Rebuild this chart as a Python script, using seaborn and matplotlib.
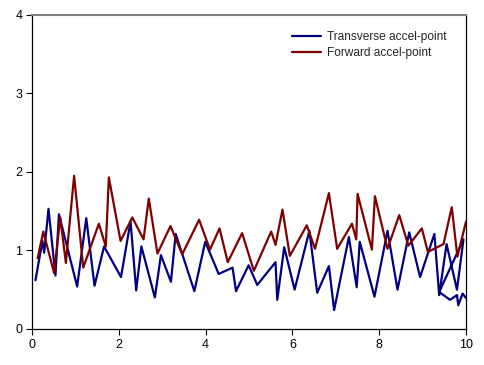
import pandas as pd
import numpy as np
import matplotlib
matplotlib.use('Agg')
import matplotlib.pyplot as plt
import seaborn as sns

# valori
trans_x = [0.08, 0.24, 0.28, 0.38, 0.54, 0.62, 1.04, 1.25, 1.44, 1.66, 2.05, 2.27, 2.40,
           2.52, 2.83, 2.97, 3.20, 3.31, 3.74, 3.99, 4.30, 4.62, 4.70, 4.99, 5.19, 5.61,
           5.65, 5.81, 6.05, 6.39, 6.57, 6.84, 6.96, 7.30, 7.48, 7.55, 7.89, 8.19, 8.42,
           8.69, 8.94, 9.27, 9.38, 9.55, 9.79, 9.94, 9.38, 9.63, 9.79, 9.82, 9.92, 10.0]
trans_y = [0.62, 1.12, 0.97, 1.53, 0.68, 1.46, 0.54, 1.41, 0.55, 1.05, 0.66, 1.37, 0.49,
           1.05, 0.40, 0.94, 0.60, 1.21, 0.48, 1.11, 0.70, 0.78, 0.48, 0.81, 0.56, 0.85,
           0.37, 1.04, 0.50, 1.25, 0.46, 0.80, 0.24, 1.17, 0.53, 1.11, 0.41, 1.25, 0.50,
           1.23, 0.66, 1.21, 0.43, 1.08, 0.50, 1.14, 0.47, 0.37, 0.43, 0.30, 0.45, 0.39]

fwd_x = [0.13, 0.26, 0.51, 0.65, 0.78, 0.97, 1.18, 1.54, 1.70, 1.77, 2.04, 2.31, 2.57,
         2.69, 2.89, 3.19, 3.46, 3.85, 4.10, 4.32, 4.51, 4.84, 5.11, 5.51, 5.61, 5.77,
         5.94, 6.33, 6.52, 6.84, 7.03, 7.37, 7.47, 7.50, 7.83, 7.90, 8.19, 8.46, 8.67,
         8.98, 9.12, 9.48, 9.67, 9.80, 10.0]
fwd_y = [0.90, 1.24, 0.71, 1.42, 0.84, 1.95, 0.78, 1.34, 1.05, 1.93, 1.12, 1.42, 1.14,
         1.66, 0.96, 1.31, 0.95, 1.39, 1.01, 1.28, 0.85, 1.22, 0.74, 1.24, 1.07, 1.52,
         0.93, 1.32, 1.02, 1.73, 1.02, 1.34, 1.14, 1.72, 1.01, 1.69, 1.02, 1.45, 1.06,
         1.28, 0.98, 1.08, 1.55, 0.92, 1.37]

sns.set_style('white')
plt.rcParams['font.family'] = ['Liberation Sans', 'DejaVu Sans']

fig = plt.figure(figsize=(4.85, 3.65), dpi=100)
ax = fig.add_axes([0.066, 0.099, 0.895, 0.860])

sns.lineplot(x=trans_x, y=trans_y, sort=False, estimator=None, color='#000080',
             linewidth=1.6, label='Transverse accel-point', ax=ax)
sns.lineplot(x=fwd_x, y=fwd_y, sort=False, estimator=None, color='#800000',
             linewidth=1.6, label='Forward accel-point', ax=ax)

ax.set_xlim(0, 10)
ax.set_ylim(0, 4)
ax.set_xticks([0, 2, 4, 6, 8, 10])
ax.set_yticks([0, 1, 2, 3, 4])
ax.tick_params(direction='out', length=4, width=0.8, labelsize=9, colors='black',
               left=True, bottom=True, pad=3)
for s in ['left', 'bottom', 'right']:
    ax.spines[s].set_color('black')
    ax.spines[s].set_linewidth(0.9)
ax.spines['top'].set_color('#808080')
ax.spines['top'].set_linewidth(1.5)

ax.legend(loc='upper left', bbox_to_anchor=(0.599, 0.948), frameon=False, fontsize=8.6,
          borderpad=0, borderaxespad=0, handlelength=2.45, handletextpad=0.5,
          labelspacing=0.35)

plt.savefig('out.png', dpi=100)
